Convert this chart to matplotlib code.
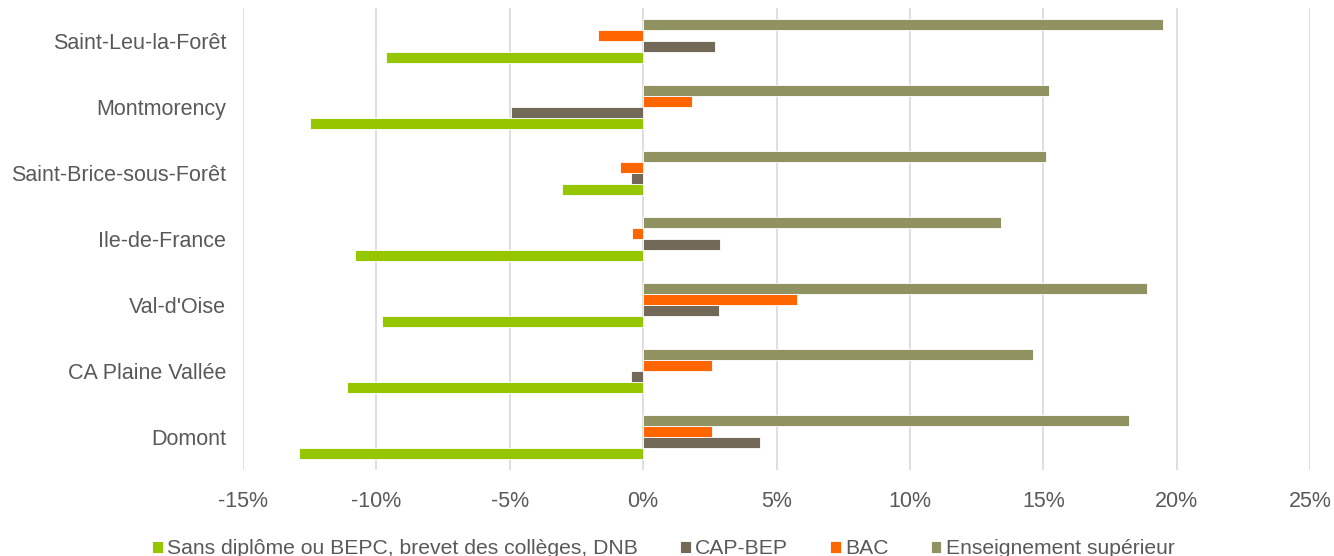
import numpy as np
import matplotlib.pyplot as plt
from matplotlib.ticker import FuncFormatter

# Territoires (du bas vers le haut)
territoires = ["Domont", "CA Plaine Vallée", "Val-d'Oise", "Ile-de-France",
               "Saint-Brice-sous-Forêt", "Montmorency", "Saint-Leu-la-Forêt"]

# Evolution de la part de chaque niveau de diplôme (points de %)
sans_diplome = [-12.9, -11.1, -9.8, -10.8, -3.05, -12.5, -9.65]
cap_bep = [4.38, -0.45, 2.86, 2.9, -0.47, -4.97, 2.7]
bac = [2.6, 2.58, 5.78, -0.42, -0.86, 1.84, -1.68]
ens_sup = [18.2, 14.6, 18.9, 13.4, 15.1, 15.2, 19.5]

series = [
    ("Sans diplôme ou BEPC, brevet des collèges, DNB", sans_diplome, "#95C600"),
    ("CAP-BEP", cap_bep, "#736959"),
    ("BAC", bac, "#FF6600"),
    ("Enseignement supérieur", ens_sup, "#909262"),
]

plt.rcParams['font.family'] = ['Liberation Sans', 'DejaVu Sans']

fig = plt.figure(figsize=(13.34, 5.56), dpi=100)
ax = fig.add_axes([243 / 1334, 1 - 470 / 556, (1310 - 243) / 1334, 462 / 556])

y = np.arange(len(territoires))
h = 0.166
for i, (name, vals, col) in enumerate(series):
    ax.barh(y + (i - 1.5) * h, vals, height=h, color=col, label=name,
            edgecolor="white", linewidth=0.6, zorder=3)

ax.set_xlim(-15, 25)
ax.set_ylim(-0.5, len(territoires) - 0.5)
ax.set_xticks(np.arange(-15, 26, 5))
ax.xaxis.set_major_formatter(FuncFormatter(lambda v, p: f"{v:.0f}%"))
ax.set_yticks(y)
ax.set_yticklabels(territoires)
ax.grid(axis="x", color="#D9D9D9", linewidth=1.2, zorder=0)
ax.set_axisbelow(True)
for s in ax.spines.values():
    s.set_visible(False)
ax.tick_params(length=0, labelsize=15.5, colors="#595959")
ax.tick_params(axis="x", pad=15)
ax.tick_params(axis="y", pad=12)

ax.legend(loc="center", bbox_to_anchor=(0.394, -0.17), ncol=4, frameon=False,
          fontsize=15.2, handlelength=0.5, handleheight=0.5, handletextpad=0.2,
          columnspacing=2.0, labelcolor="#595959")

fig.savefig("out.png", dpi=100)
